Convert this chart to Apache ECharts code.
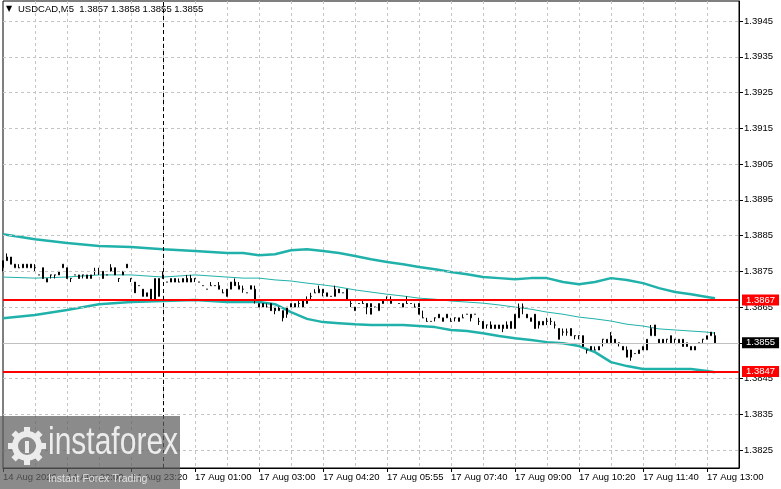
<!DOCTYPE html>
<html><head><meta charset="utf-8">
<script src="https://cdn.jsdelivr.net/npm/echarts@6/dist/echarts.min.js"></script>
<style>html,body{margin:0;padding:0;background:#fff}#c{width:781px;height:489px}</style>
</head><body><div id="c"></div>
<script>
const symbolName = 'USDCAD,M5';
const tickLabels = ['14 Aug 2026','14 Aug 22:00','14 Aug 23:20','17 Aug 01:00','17 Aug 03:00','17 Aug 04:20','17 Aug 05:55','17 Aug 07:40','17 Aug 09:00','17 Aug 10:20','17 Aug 11:40','17 Aug 13:00'];
const priceTicks = [1.3825,1.3835,1.3845,1.3855,1.3865,1.3875,1.3885,1.3895,1.3905,1.3915,1.3925,1.3935,1.3945];
const levels = [1.3867, 1.3847];
const separatorBar = 40;
const slotCount = 185;
// rows: [open, high, low, close]
const ohlc = [
[1.3876,1.3878,1.3875,1.3878],[1.3879,1.3880,1.3878,1.3878],[1.3879,1.3879,1.3877,1.3877],[1.3876,1.3877,1.3876,1.3877],
[1.3876,1.3877,1.3876,1.3876],[1.3877,1.3877,1.3876,1.3876],[1.3876,1.3877,1.3876,1.3877],[1.3877,1.3877,1.3876,1.3876],
[1.3876,1.3877,1.3875,1.3876],[1.3874,1.3874,1.3874,1.3874],[1.3876,1.3876,1.3873,1.3873],[1.3872,1.3873,1.3872,1.3873],
[1.3874,1.3874,1.3873,1.3874],[1.3874,1.3874,1.3873,1.3874],[1.3874,1.3875,1.3874,1.3875],[1.3876,1.3877,1.3876,1.3877],
[1.3876,1.3876,1.3873,1.3873],[1.3873,1.3873,1.3872,1.3873],[1.3874,1.3874,1.3874,1.3874],[1.3874,1.3874,1.3873,1.3873],
[1.3874,1.3874,1.3873,1.3874],[1.3873,1.3874,1.3873,1.3874],[1.3873,1.3874,1.3873,1.3874],[1.3875,1.3876,1.3874,1.3875],
[1.3875,1.3876,1.3874,1.3875],[1.3875,1.3875,1.3873,1.3873],[1.3874,1.3874,1.3874,1.3874],[1.3876,1.3877,1.3875,1.3875],
[1.3876,1.3876,1.3874,1.3874],[1.3873,1.3873,1.3872,1.3873],[1.3874,1.3875,1.3874,1.3875],[1.3877,1.3877,1.3876,1.3876],
[1.3873,1.3873,1.3872,1.3873],[1.3872,1.3872,1.3869,1.3869],[1.3871,1.3871,1.3871,1.3871],[1.3870,1.3870,1.3868,1.3868],
[1.3868,1.3869,1.3868,1.3869],[1.3870,1.3870,1.3867,1.3867],[1.3867,1.3873,1.3867,1.3873],[1.3868,1.3873,1.3868,1.3873],
[1.3874,1.3875,1.3873,1.3873],[1.3872,1.3872,1.3872,1.3872],[1.3872,1.3873,1.3872,1.3873],[1.3872,1.3873,1.3872,1.3873],
[1.3872,1.3873,1.3872,1.3872],[1.3872,1.3873,1.3872,1.3873],[1.3873,1.3874,1.3872,1.3872],[1.3873,1.3874,1.3872,1.3872],
[1.3873,1.3873,1.3872,1.3873],[1.3872,1.3872,1.3872,1.3872],[1.3871,1.3871,1.3871,1.3871],[1.3870,1.3870,1.3870,1.3870],
[1.3871,1.3872,1.3871,1.3871],[1.3871,1.3871,1.3871,1.3871],[1.3871,1.3872,1.3870,1.3870],[1.3869,1.3870,1.3869,1.3869],
[1.3870,1.3870,1.3868,1.3868],[1.3870,1.3872,1.3870,1.3872],[1.3872,1.3873,1.3871,1.3871],[1.3870,1.3872,1.3870,1.3871],
[1.3870,1.3871,1.3869,1.3870],[1.3869,1.3869,1.3869,1.3869],[1.3870,1.3871,1.3870,1.3871],[1.3870,1.3871,1.3866,1.3867],
[1.3865,1.3866,1.3865,1.3866],[1.3866,1.3866,1.3865,1.3865],[1.3865,1.3866,1.3865,1.3865],[1.3866,1.3866,1.3864,1.3864],
[1.3865,1.3865,1.3863,1.3864],[1.3864,1.3865,1.3864,1.3865],[1.3864,1.3864,1.3861,1.3862],[1.3863,1.3865,1.3862,1.3865],
[1.3865,1.3866,1.3865,1.3866],[1.3865,1.3866,1.3865,1.3866],[1.3866,1.3867,1.3865,1.3866],[1.3867,1.3867,1.3865,1.3865],
[1.3866,1.3868,1.3866,1.3867],[1.3868,1.3869,1.3867,1.3868],[1.3869,1.3870,1.3869,1.3869],[1.3869,1.3871,1.3869,1.3870],
[1.3870,1.3870,1.3868,1.3869],[1.3868,1.3869,1.3868,1.3869],[1.3868,1.3868,1.3868,1.3868],[1.3868,1.3871,1.3868,1.3870],
[1.3870,1.3870,1.3869,1.3869],[1.3869,1.3869,1.3869,1.3869],[1.3870,1.3870,1.3867,1.3867],[1.3866,1.3867,1.3865,1.3866],
[1.3864,1.3865,1.3864,1.3865],[1.3866,1.3866,1.3866,1.3866],[1.3866,1.3867,1.3866,1.3866],[1.3866,1.3866,1.3863,1.3865],
[1.3863,1.3866,1.3863,1.3866],[1.3865,1.3865,1.3865,1.3865],[1.3864,1.3866,1.3864,1.3866],[1.3867,1.3867,1.3866,1.3866],
[1.3867,1.3868,1.3867,1.3867],[1.3866,1.3868,1.3866,1.3867],[1.3867,1.3867,1.3867,1.3867],[1.3866,1.3866,1.3866,1.3866],
[1.3865,1.3866,1.3865,1.3866],[1.3866,1.3868,1.3866,1.3866],[1.3866,1.3866,1.3866,1.3866],[1.3865,1.3866,1.3865,1.3865],
[1.3866,1.3866,1.3863,1.3863],[1.3862,1.3864,1.3862,1.3862],[1.3861,1.3862,1.3861,1.3861],[1.3861,1.3861,1.3861,1.3861],
[1.3862,1.3862,1.3861,1.3862],[1.3863,1.3863,1.3862,1.3862],[1.3861,1.3862,1.3861,1.3862],[1.3863,1.3863,1.3862,1.3862],
[1.3861,1.3862,1.3861,1.3861],[1.3862,1.3862,1.3861,1.3862],[1.3861,1.3862,1.3861,1.3862],[1.3862,1.3863,1.3862,1.3862],
[1.3863,1.3863,1.3863,1.3863],[1.3863,1.3863,1.3861,1.3862],[1.3863,1.3863,1.3863,1.3863],[1.3861,1.3862,1.3860,1.3861],
[1.3861,1.3861,1.3859,1.3859],[1.3860,1.3860,1.3859,1.3860],[1.3860,1.3861,1.3859,1.3859],[1.3860,1.3860,1.3859,1.3859],
[1.3860,1.3860,1.3859,1.3859],[1.3860,1.3860,1.3858,1.3859],[1.3859,1.3861,1.3859,1.3860],[1.3859,1.3861,1.3859,1.3861],
[1.3859,1.3863,1.3859,1.3863],[1.3862,1.3866,1.3862,1.3865],[1.3865,1.3866,1.3863,1.3865],[1.3863,1.3863,1.3862,1.3862],
[1.3861,1.3862,1.3861,1.3862],[1.3863,1.3863,1.3859,1.3859],[1.3860,1.3861,1.3859,1.3861],[1.3861,1.3861,1.3860,1.3860],
[1.3861,1.3862,1.3860,1.3861],[1.3861,1.3862,1.3860,1.3861],[1.3860,1.3861,1.3859,1.3860],[1.3859,1.3859,1.3856,1.3856],
[1.3858,1.3859,1.3857,1.3858],[1.3858,1.3859,1.3857,1.3858],[1.3859,1.3859,1.3857,1.3857],[1.3857,1.3857,1.3856,1.3857],
[1.3857,1.3857,1.3856,1.3857],[1.3857,1.3857,1.3854,1.3854],[1.3853,1.3853,1.3852,1.3853],[1.3854,1.3854,1.3853,1.3853],
[1.3853,1.3854,1.3853,1.3853],[1.3853,1.3854,1.3853,1.3854],[1.3856,1.3856,1.3854,1.3856],[1.3855,1.3856,1.3855,1.3856],
[1.3855,1.3858,1.3855,1.3857],[1.3856,1.3856,1.3855,1.3855],[1.3855,1.3855,1.3854,1.3855],[1.3854,1.3854,1.3853,1.3853],
[1.3853,1.3854,1.3851,1.3851],[1.3853,1.3853,1.3850,1.3851],[1.3852,1.3852,1.3852,1.3852],[1.3853,1.3853,1.3852,1.3852],
[1.3853,1.3854,1.3853,1.3854],[1.3853,1.3856,1.3853,1.3856],[1.3857,1.3860,1.3857,1.3859],[1.3860,1.3860,1.3857,1.3857],
[1.3856,1.3856,1.3855,1.3855],[1.3856,1.3856,1.3855,1.3855],[1.3856,1.3856,1.3855,1.3856],[1.3857,1.3857,1.3855,1.3855],
[1.3856,1.3856,1.3855,1.3856],[1.3855,1.3856,1.3855,1.3856],[1.3856,1.3856,1.3854,1.3854],[1.3855,1.3855,1.3854,1.3854],
[1.3853,1.3854,1.3853,1.3854],[1.3853,1.3854,1.3853,1.3854],[1.3855,1.3855,1.3855,1.3855],[1.3856,1.3856,1.3855,1.3856],
[1.3856,1.3857,1.3856,1.3857],[1.3857,1.3858,1.3857,1.3858],[1.3857,1.3858,1.3855,1.3855]
];
const bandIdx   = [0,8,16,24,32,40,48,56,60,64,68,72,76,80,84,88,92,96,100,104,108,112,116,120,124,128,132,136,140,144,148,152,156,160,164,168,172,176,178];
const bandUpper = [1.38854,1.38840,1.38829,1.38821,1.38818,1.38812,1.38807,1.38801,1.38801,1.38795,1.38798,1.38809,1.38812,1.38807,1.38801,1.38793,1.38784,1.38776,1.38770,1.38762,1.38756,1.38748,1.38742,1.38734,1.38731,1.38728,1.38731,1.38731,1.38720,1.38714,1.38720,1.38731,1.38726,1.38717,1.38703,1.38692,1.38686,1.38678,1.38675];
const bandMid   = [1.38734,1.38731,1.38734,1.38740,1.38740,1.38734,1.38740,1.38734,1.38731,1.38731,1.38726,1.38723,1.38717,1.38712,1.38706,1.38698,1.38692,1.38686,1.38681,1.38675,1.38672,1.38667,1.38664,1.38661,1.38656,1.38650,1.38644,1.38636,1.38630,1.38622,1.38617,1.38611,1.38602,1.38597,1.38589,1.38586,1.38583,1.38580,1.38577];
const bandLower = [1.38619,1.38628,1.38642,1.38658,1.38664,1.38667,1.38670,1.38664,1.38664,1.38664,1.38658,1.38636,1.38617,1.38608,1.38605,1.38602,1.38600,1.38600,1.38600,1.38597,1.38594,1.38586,1.38583,1.38577,1.38569,1.38563,1.38558,1.38552,1.38549,1.38541,1.38524,1.38496,1.38485,1.38477,1.38477,1.38477,1.38477,1.38471,1.38468];

const cats = Array.from({length: slotCount}, (_, i) => String(i));
const candleData = ohlc.map(r => [r[0], r[3], r[2], r[1]]);
const last = ohlc[ohlc.length - 1];
const lastClose = last[3];
const FONT = 'Liberation Sans, Arial, sans-serif';
const teal = '#20B2AA';
const f4 = v => Number(v).toFixed(4);
const bandSeries = (arr, w, extra) => Object.assign({
  type: 'line', data: bandIdx.map((k, j) => [k, arr[j]]), symbol: 'none', silent: true,
  lineStyle: {color: teal, width: w}, z: 3, animation: false
}, extra || {});

const tagLabel = bg => ({show: true, position: 'end', distance: 3, formatter: p => f4(p.value),
  color: '#fff', backgroundColor: bg, padding: [1, 4, 0, 4], fontSize: 9.5, lineHeight: 10, fontFamily: FONT});

const teeth = [];
for (let k = 0; k < 8; k++) {
  const a = k * Math.PI / 4;
  teeth.push({type: 'rect', x: 27 + Math.cos(a) * 16, y: 446 + Math.sin(a) * 16, rotation: -a,
    shape: {x: -3, y: -3, width: 6, height: 6}, style: {fill: '#ececec'}, z: 101});
}

const chart = echarts.init(document.getElementById('c'), null, {renderer: 'canvas'});
chart.setOption({
  animation: false,
  backgroundColor: '#ffffff',
  textStyle: {fontFamily: FONT},
  grid: {left: 3, right: 42, top: 1, bottom: 21, show: true, borderColor: '#000', borderWidth: 1},
  xAxis: {
    type: 'category', data: cats, boundaryGap: false,
    axisLine: {show: true, lineStyle: {color: '#000'}},
    axisTick: {show: true, interval: (i) => i % 16 === 0, length: 4, lineStyle: {color: '#000'}},
    axisLabel: {interval: (i) => i % 16 === 0, formatter: (v, i) => tickLabels[i / 16] || '',
      align: 'left', color: '#000', fontSize: 9.5, margin: 4, fontFamily: FONT},
    splitLine: {show: true, interval: (i) => i % 8 === 0 && i > 0, lineStyle: {color: '#c4c4c4', type: [3, 3], width: 1}}
  },
  yAxis: {
    type: 'value', position: 'right', min: 1.382, max: 1.39506, scale: true,
    axisLine: {show: true, lineStyle: {color: '#000'}},
    axisTick: {show: true, customValues: priceTicks, length: 4, lineStyle: {color: '#000'}},
    axisLabel: {customValues: priceTicks, formatter: v => f4(v), color: '#000', fontSize: 9.5, margin: 5, fontFamily: FONT},
    splitLine: {show: false}
  },
  series: [
    {
      type: 'line', data: [], silent: true, z: 1,
      markLine: {silent: true, symbol: 'none', precision: 5, animation: false, label: {show: false},
        lineStyle: {color: '#c4c4c4', type: [3, 3], width: 1},
        data: priceTicks.map(v => ({yAxis: v}))}
    },
    bandSeries(bandUpper, 2.5),
    bandSeries(bandMid, 1),
    bandSeries(bandLower, 2.5),
    {
      type: 'candlestick', data: candleData, barWidth: 2, clip: false, z: 4,
      itemStyle: {color: '#ffffff', color0: '#000000', borderColor: '#000000', borderColor0: '#000000', borderColorDoji: '#000000', borderWidth: 1},
      markLine: {
        silent: true, symbol: 'none', precision: 5, animation: false,
        data: [
          {yAxis: lastClose, lineStyle: {color: '#c0c0c0', width: 1, type: 'solid'}, label: tagLabel('#000000')},
          {yAxis: levels[0], lineStyle: {color: '#ff0000', width: 2, type: 'solid'}, label: tagLabel('#ff0000')},
          {yAxis: levels[1], lineStyle: {color: '#ff0000', width: 2, type: 'solid'}, label: tagLabel('#ff0000')},
          {xAxis: cats[separatorBar], lineStyle: {color: '#000', width: 1, type: [4, 3]}, label: {show: false}}
        ]
      }
    }
  ],
  graphic: [
    {type: 'text', left: 6, top: 5, style: {text: '\u25BC', fontSize: 8, fill: '#000', fontFamily: 'DejaVu Sans'}},
    {type: 'text', left: 18, top: 4, style: {text: symbolName + '  ' + [last[0], last[1], last[2], last[3]].map(f4).join(' '),
      fontSize: 9.5, fill: '#000', fontFamily: FONT}},
    {type: 'rect', shape: {x: 0, y: 416, width: 180, height: 73}, style: {fill: 'rgba(96,96,96,0.73)'}, z: 100},
    {type: 'circle', shape: {cx: 27, cy: 446, r: 12}, style: {fill: 'none', stroke: '#ececec', lineWidth: 6}, z: 101},
    ...teeth,
    {type: 'rect', shape: {x: 25, y: 441, width: 4, height: 12}, style: {fill: '#ececec'}, z: 101},
    {type: 'text', x: 48, y: 424, scaleY: 1.3, style: {text: 'instaforex', fontSize: 30, fill: '#ececec', fontFamily: FONT, verticalAlign: 'top'}, z: 101},
    {type: 'text', x: 48, y: 474, style: {text: 'Instant Forex Trading', fontSize: 10.5, fill: '#e0e0e0', fontFamily: FONT, verticalAlign: 'top'}, z: 101}
  ]
});
</script></body></html>
